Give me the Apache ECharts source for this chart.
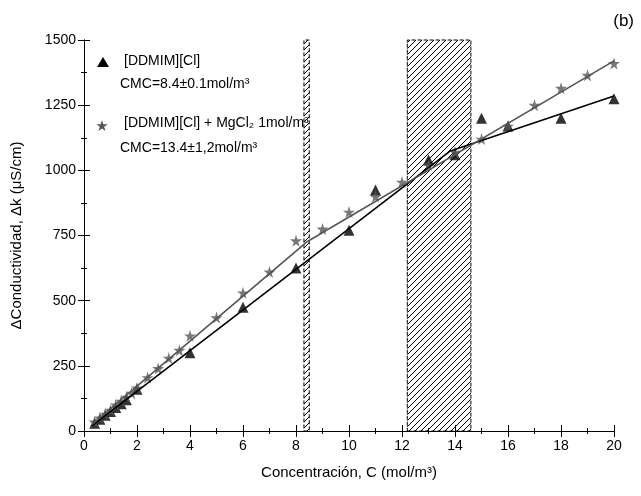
<!DOCTYPE html>
<html>
<head>
<meta charset="utf-8">
<script src="https://cdn.jsdelivr.net/npm/echarts@6/dist/echarts.min.js"></script>
<style>html,body{margin:0;background:#fff}#c{width:641px;height:496px}</style>
</head>
<body>
<div id="c"></div>
<script>
// measured points
var triX = [0.4, 0.6, 0.8, 1.0, 1.2, 1.4, 1.6, 2, 4, 6, 8, 10, 11, 13, 14, 15, 16, 18, 20];
var triY = [30, 45, 60, 75, 90, 105, 120, 160, 300, 475, 625, 770, 925, 1040, 1060, 1200, 1170, 1200, 1275];
var starX = [0.4, 0.6, 0.8, 1, 1.2, 1.4, 1.6, 1.8, 2, 2.4, 2.8, 3.2, 3.6, 4, 5, 6, 7, 8, 9, 10, 11, 12, 13, 14, 15, 16, 17, 18, 19, 20];
var starY = [35, 50, 65, 80, 100, 115, 130, 145, 165, 205, 240, 280, 310, 365, 435, 530, 610, 730, 775, 840, 900, 955, 1020, 1070, 1120, 1170, 1250, 1315, 1365, 1410];
// fitted lines
var fitTriX = [0.3, 13.8, 20];
var fitTriY = [20, 1073, 1285];
var fitStarX = [0.3, 8.4, 20];
var fitStarY = [25, 725, 1420];
// CMC bands
var bands = [[8.3, 8.5], [12.2, 14.6]];

function zip(a, b) { return a.map(function (v, i) { return [v, b[i]]; }); }

var cv = document.createElement('canvas');
cv.width = 6; cv.height = 6;
var g = cv.getContext('2d');
g.strokeStyle = '#000'; g.lineWidth = 1;
g.beginPath();
g.moveTo(0, 6); g.lineTo(6, 0);
g.moveTo(-3, 3); g.lineTo(3, -3);
g.moveTo(3, 9); g.lineTo(9, 3);
g.stroke();

var star = 'path://M50,0 L61,35 L98,35 L68,57 L79,91 L50,70 L21,91 L32,57 L2,35 L39,35 Z';
var starPts = [[50,0],[61,35],[98,35],[68,57],[79,91],[50,70],[21,91],[32,57],[2,35],[39,35]]
  .map(function (p) { return [102 + (p[0] - 50) * 0.12, 120 + p[1] * 0.12]; });
var font = 'Liberation Sans, Arial, sans-serif';
var txt = function (x, y, s) { return { type: 'text', left: x, top: y, style: { text: s, fill: '#000', font: '14px ' + font } }; };
var chart = echarts.init(document.getElementById('c'));
var axisCommon = {
  axisLine: { show: true, lineStyle: { color: '#000', width: 1 } },
  axisTick: { inside: true, length: 6, lineStyle: { color: '#000' } },
  minorTick: { show: true, splitNumber: 2, length: 3, lineStyle: { color: '#000' } },
  splitLine: { show: false }
};
chart.setOption({
  animation: false,
  textStyle: { fontFamily: font },
  grid: { left: 84, right: 27, top: 40, bottom: 65 },
  title: { text: '(b)', right: 2, top: 8, textStyle: { fontSize: 17, fontWeight: 'normal', color: '#000', fontFamily: font } },
  graphic: [
    { type: 'polygon', shape: { points: [[103, 57], [109, 67], [97, 67]] }, style: { fill: '#000' } },
    txt(124, 54, '[DDMIM][Cl]'),
    txt(120, 77, 'CMC=8.4±0.1mol/m³'),
    { type: 'polygon', shape: { points: starPts }, style: { fill: '#555' } },
    txt(124, 116, '[DDMIM][Cl] + MgCl₂ 1mol/m³'),
    txt(120, 141, 'CMC=13.4±1,2mol/m³')
  ],
  xAxis: [Object.assign({ type: 'value', min: 0, max: 20, interval: 2,
    name: 'Concentración, C (mol/m³)', nameLocation: 'middle', nameGap: 34,
    nameTextStyle: { fontSize: 15, color: '#000' },
    axisLabel: { fontSize: 14, color: '#000' } }, axisCommon),
    Object.assign({ type: 'value', min: 0, max: 20, interval: 2, position: 'top', axisLabel: { show: false } }, axisCommon)],
  yAxis: [Object.assign({ type: 'value', min: 0, max: 1500, interval: 250,
    name: 'ΔConductividad, Δk (μS/cm)', nameLocation: 'middle', nameGap: 60,
    nameTextStyle: { fontSize: 15, color: '#000' },
    axisLabel: { fontSize: 14, color: '#000', formatter: function (v) { return String(v); } } }, axisCommon),
    Object.assign({ type: 'value', min: 0, max: 1500, interval: 250, position: 'right', axisLabel: { show: false } }, axisCommon)],
  series: [
    { type: 'line', data: [], markArea: { silent: true,
        itemStyle: { color: { image: cv, repeat: 'repeat' }, borderColor: '#000', borderWidth: 1, borderType: 'dashed' },
        data: bands.map(function (b) { return [{ xAxis: b[0] }, { xAxis: b[1] }]; }) } },
    { type: 'line', data: zip(fitTriX, fitTriY), symbol: 'none', lineStyle: { color: '#000', width: 1.6 } },
    { type: 'line', data: zip(fitStarX, fitStarY), symbol: 'none', lineStyle: { color: '#555', width: 1.6 } },
    { type: 'scatter', data: zip(triX, triY), symbol: 'triangle', symbolSize: 11, itemStyle: { color: '#000' } },
    { type: 'scatter', data: zip(starX, starY), symbolSize: 12, itemStyle: { color: '#555' }, symbol: star }
  ]
});
</script>
</body>
</html>
